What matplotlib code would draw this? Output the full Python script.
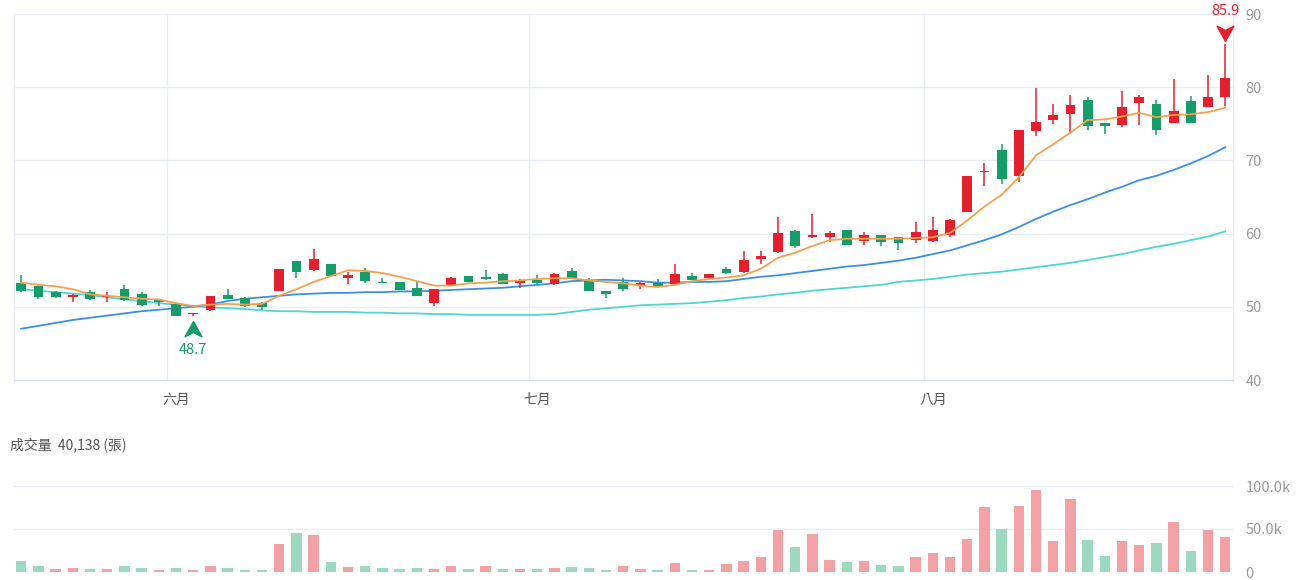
import numpy as np
import matplotlib.pyplot as plt
from matplotlib.path import Path
from matplotlib.transforms import offset_copy

plt.rcParams['font.family'] = ['Noto Sans CJK TC', 'DejaVu Sans']

# 日K資料 (約5月中 ~ 8月底)
opens = [53.3, 52.9, 52.0, 51.4, 52.0, 51.3, 52.4, 51.8, 50.9, 50.4,
         49.0, 49.5, 51.6, 51.2, 50.5, 52.2, 56.2, 55.0, 55.8, 54.0,
         54.7, 53.4, 53.4, 52.6, 50.5, 52.9, 54.2, 54.1, 54.5, 53.2,
         53.7, 53.1, 54.9, 53.6, 52.1, 53.4, 52.8, 53.3, 53.1, 54.2,
         53.9, 55.1, 54.8, 56.5, 57.5, 60.4, 59.5, 59.6, 60.5, 59.0,
         59.8, 59.5, 59.1, 59.0, 59.8, 62.9, 68.4, 71.4, 67.9, 74.0,
         75.5, 76.3, 78.2, 75.1, 74.9, 77.9, 77.7, 75.1, 78.1, 77.3,
         78.6]
highs = [54.4, 53.1, 52.1, 51.7, 52.3, 52.0, 53.0, 52.0, 51.0, 50.4,
         49.2, 51.5, 52.4, 51.3, 50.6, 55.1, 56.3, 57.9, 55.9, 54.8,
         55.3, 54.0, 53.4, 53.5, 52.4, 54.1, 54.2, 55.0, 54.6, 53.8,
         54.4, 54.6, 55.3, 54.0, 52.1, 53.9, 53.4, 53.8, 55.9, 54.6,
         54.5, 55.5, 57.6, 57.6, 62.3, 60.5, 62.7, 60.3, 60.5, 60.2,
         59.8, 59.6, 61.6, 62.3, 62.0, 67.9, 69.7, 72.2, 74.2, 79.9,
         77.7, 79.0, 78.7, 75.1, 79.5, 79.0, 78.2, 81.1, 78.8, 81.7,
         85.9]
lows = [52.0, 51.1, 51.2, 50.6, 50.9, 50.7, 50.8, 50.1, 50.1, 48.8,
        48.7, 49.4, 51.0, 50.0, 49.6, 52.1, 54.0, 54.9, 54.1, 53.1,
        53.3, 53.2, 52.3, 51.5, 50.1, 52.8, 53.4, 53.7, 53.1, 52.6,
        53.1, 53.0, 53.8, 52.1, 51.2, 52.1, 52.4, 52.7, 53.0, 53.6,
        53.8, 54.5, 54.6, 55.8, 57.4, 58.1, 59.4, 58.8, 58.4, 58.5,
        58.3, 57.8, 58.7, 58.8, 59.5, 62.9, 66.5, 66.8, 67.0, 73.3,
        75.0, 73.6, 74.2, 73.6, 74.6, 74.9, 73.5, 75.1, 75.1, 77.3,
        77.4]
closes = [52.1, 51.3, 51.3, 51.6, 51.0, 51.5, 50.9, 50.2, 50.7, 48.8,
          49.1, 51.5, 51.1, 50.1, 50.0, 55.1, 54.8, 56.5, 54.2, 54.3,
          53.5, 53.2, 52.3, 51.5, 52.4, 53.9, 53.4, 53.8, 53.1, 53.6,
          53.2, 54.5, 53.9, 52.1, 51.8, 52.5, 53.2, 52.8, 54.5, 53.7,
          54.5, 54.6, 56.4, 57.0, 60.1, 58.3, 59.8, 60.1, 58.4, 59.8,
          58.8, 58.7, 60.2, 60.5, 61.8, 67.9, 68.6, 67.4, 74.2, 75.3,
          76.2, 77.6, 74.7, 74.7, 77.3, 78.6, 74.2, 76.8, 75.1, 78.6,
          81.2]

# 均線 (讀圖估計)
ma5 = [53.3, 53.0, 52.8, 52.4, 51.7, 51.5, 51.3, 51.1, 51.0, 50.5,
       50.1, 50.3, 50.4, 50.3, 50.4, 51.5, 52.4, 53.4, 54.2, 55.0,
       54.9, 54.6, 54.1, 53.5, 52.9, 52.9, 53.2, 53.3, 53.5, 53.6,
       53.8, 53.9, 53.9, 53.6, 53.4, 53.2, 52.9, 52.7, 53.0, 53.5,
       53.8, 54.0, 54.3, 55.2, 56.7, 57.4, 58.3, 59.1, 59.3, 59.3,
       59.3, 59.3, 59.4, 59.5, 60.1, 61.8, 63.7, 65.3, 67.7, 70.7,
       72.2, 73.8, 75.5, 75.6, 76.0, 76.5, 75.9, 76.2, 76.3, 76.6,
       77.2]
ma20 = [47.0, 47.4, 47.8, 48.2, 48.5, 48.8, 49.1, 49.4, 49.6, 49.8,
        50.0, 50.3, 50.8, 51.1, 51.3, 51.5, 51.7, 51.8, 51.9, 51.9,
        52.0, 52.0, 52.1, 52.1, 52.2, 52.3, 52.4, 52.5, 52.6, 52.8,
        53.0, 53.2, 53.5, 53.6, 53.7, 53.6, 53.5, 53.3, 53.3, 53.4,
        53.4, 53.5, 53.8, 54.1, 54.3, 54.6, 54.9, 55.2, 55.5, 55.7,
        56.0, 56.3, 56.7, 57.2, 57.7, 58.4, 59.1, 59.9, 60.9, 62.0,
        63.0, 63.9, 64.7, 65.6, 66.4, 67.3, 67.9, 68.7, 69.6, 70.6,
        71.8]
ma60 = [52.4, 52.2, 52.0, 51.8, 51.6, 51.3, 51.0, 50.8, 50.5, 50.3,
        50.1, 49.9, 49.8, 49.7, 49.5, 49.4, 49.4, 49.3, 49.3, 49.3,
        49.2, 49.2, 49.1, 49.1, 49.0, 49.0, 48.9, 48.9, 48.9, 48.9,
        48.9, 49.0, 49.3, 49.6, 49.8, 50.0, 50.2, 50.3, 50.4, 50.5,
        50.7, 50.9, 51.2, 51.4, 51.7, 51.9, 52.2, 52.4, 52.6, 52.8,
        53.0, 53.4, 53.6, 53.8, 54.1, 54.4, 54.6, 54.8, 55.1, 55.4,
        55.7, 56.0, 56.4, 56.8, 57.2, 57.7, 58.2, 58.6, 59.1, 59.6,
        60.3]

# 成交量 (張), 1 = 比前日漲 (紅), 0 = 跌 (綠)
volume = [12300, 6700, 3000, 4500, 3700, 3400, 7100, 4100, 2200, 4500,
          1900, 6700, 4900, 2200, 1900, 32000, 45000, 43000, 11600, 6000,
          6700, 4100, 3400, 4900, 3400, 6700, 3700, 6700, 3400, 3000,
          3400, 4100, 6300, 4900, 1900, 7100, 3000, 2600, 10400, 2600,
          1900, 9000, 12300, 17900, 49300, 29500, 44400, 13400, 11200, 12300,
          7800, 7100, 17500, 22000, 17500, 38400, 75700, 50400, 77200, 95900,
          36200, 85400, 37300, 19000, 36200, 31300, 33600, 57800, 24300, 48900,
          40138]
vol_up = [0, 0, 1, 1, 0, 1, 0, 0, 1, 0,
          1, 1, 0, 0, 0, 1, 0, 1, 0, 1,
          0, 0, 0, 0, 1, 1, 0, 1, 0, 1,
          0, 1, 0, 0, 0, 1, 1, 0, 1, 0,
          1, 1, 1, 1, 1, 0, 1, 1, 0, 1,
          0, 0, 1, 1, 1, 1, 1, 0, 1, 1,
          1, 1, 0, 0, 1, 1, 0, 1, 0, 1,
          1]

month_pos = [9, 30, 53]
month_labels = ['六月', '七月', '八月']

RED = '#e3202d'
GREEN = '#169b6b'
RED_V = '#f2a1a6'
GREEN_V = '#9dd8c0'
GRID = '#e9edf5'
TXT = '#999999'

x = np.arange(len(closes))
o = np.array(opens)
c = np.array(closes)
up = c >= o
colors = np.where(up, RED, GREEN)

fig = plt.figure(figsize=(13, 5.8), dpi=100)
ax = fig.add_axes([14 / 1300, 1 - 380 / 580, 1219 / 1300, 366 / 580])
axv = fig.add_axes([14 / 1300, 1 - 572 / 580, 1219 / 1300, 86 / 580])

# K棒
ax.vlines(x, lows, highs, colors=colors, linewidth=1.1, zorder=3)
body_bottom = np.minimum(o, c)
body_h = np.maximum(np.abs(c - o), 0.12)
ax.bar(x, body_h, bottom=body_bottom, width=0.57, color=colors, zorder=4)

# 均線
ax.plot(x, ma60, color='#4fd5d2', linewidth=1.3, zorder=2)
ax.plot(x, ma20, color='#3b8fe4', linewidth=1.3, zorder=2)
ax.plot(x, ma5, color='#f5a04f', linewidth=1.3, zorder=5)

# 最高/最低標記 (箭頭尖端在原點)
arrow_up = Path([(0, 0), (-0.55, -1), (0, -0.72), (0.55, -1), (0, 0)],
                [Path.MOVETO, Path.LINETO, Path.LINETO, Path.LINETO, Path.CLOSEPOLY])
arrow_down = Path(arrow_up.vertices * [1, -1], arrow_up.codes)
i_hi = int(np.argmax(highs))
i_lo = int(np.argmin(lows))
ax.plot(i_hi, highs[i_hi], marker=arrow_down, markersize=22, color=RED, linestyle='none',
        transform=offset_copy(ax.transData, fig, y=3, units='dots'), zorder=6, clip_on=False)
ax.plot(i_lo, lows[i_lo], marker=arrow_up, markersize=22, color=GREEN, linestyle='none',
        transform=offset_copy(ax.transData, fig, y=-5, units='dots'), zorder=6, clip_on=False)
ax.annotate(f'{highs[i_hi]:.1f}', (i_hi, highs[i_hi]), xytext=(0, 24), textcoords='offset points',
            ha='center', va='center', color=RED, fontsize=10.5, annotation_clip=False)
ax.annotate(f'{lows[i_lo]:.1f}', (i_lo, lows[i_lo]), xytext=(0, -24), textcoords='offset points',
            ha='center', va='center', color=GREEN, fontsize=10.5, annotation_clip=False)

ax.set_xlim(-0.42, 70.45)
ax.set_ylim(40, 90)
ax.set_yticks([40, 50, 60, 70, 80, 90])
ax.yaxis.tick_right()
ax.tick_params(axis='y', length=0, pad=9, labelsize=10.5, labelcolor=TXT)
ax.set_xticks(month_pos)
ax.set_xticklabels(month_labels)
ax.tick_params(axis='x', length=0, pad=9, labelsize=10, labelcolor='#555555')
ax.grid(axis='y', color=GRID, linewidth=1)
for p in month_pos:
    ax.axvline(p - 0.5, color=GRID, linewidth=1, zorder=0)
for s in ['left', 'right']:
    ax.spines[s].set_color(GRID)
ax.spines['top'].set_visible(False)
ax.spines['bottom'].set_color('#d5dbe6')
ax.set_axisbelow(True)

# 成交量
axv.bar(x, volume, width=0.6, color=[RED_V if u else GREEN_V for u in vol_up], zorder=3)
axv.set_xlim(-0.42, 70.45)
axv.set_ylim(0, 100000)
axv.set_yticks([0, 50000, 100000])
axv.set_yticklabels(['0', '50.0k', '100.0k'])
axv.yaxis.tick_right()
axv.tick_params(axis='y', length=0, pad=9, labelsize=10.5, labelcolor=TXT)
axv.set_xticks([])
axv.grid(axis='y', color=GRID, linewidth=1)
axv.set_axisbelow(True)
for s in axv.spines.values():
    s.set_visible(False)

fig.text(10 / 1300, 1 - 445 / 580, f'成交量  {volume[-1]:,} (張)', fontsize=10,
         color='#555555', va='center', ha='left')

fig.savefig('out.png', dpi=100)
